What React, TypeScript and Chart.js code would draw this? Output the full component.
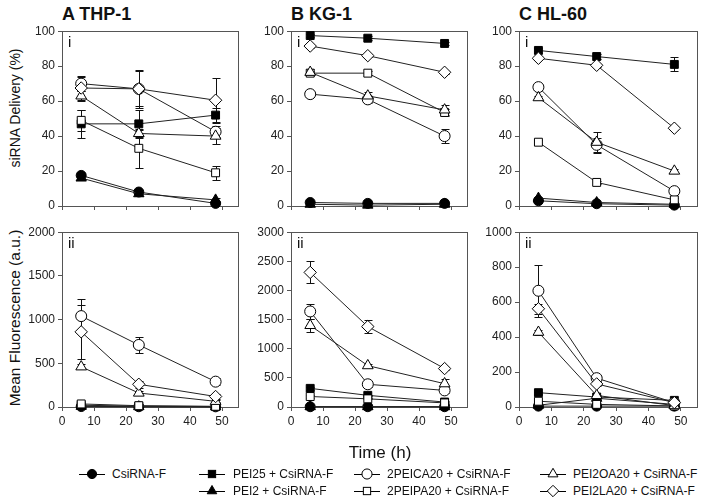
import React, { useEffect, useRef } from "react";
import { Chart, registerables } from "chart.js";

Chart.register(...registerables);

const FONT = "'Liberation Sans', Arial, Helvetica, sans-serif";

// ---------------- DATA ----------------
const hours = [6, 24, 48];
const xTickValues = [0, 10, 20, 30, 40, 50];

const seriesLabels = [
  "CsiRNA-F",
  "PEI25 + CsiRNA-F",
  "PEI2 + CsiRNA-F",
  "2PEICA20 + CsiRNA-F",
  "2PEIPA20 + CsiRNA-F",
  "PEI2OA20 + CsiRNA-F",
  "PEI2LA20 + CsiRNA-F",
];

// A THP-1, siRNA delivery (%)
const thp1Delivery = [
  [17.5, 8, 1.5],
  [47, 47, 52],
  [16, 7, 3.5],
  [70, 67, 42.5],
  [49, 33, 19],
  [63, 41.5, 40],
  [67.5, 67, 60.5],
];
const thp1DeliveryErr = [
  [1.5, 1, 0.5],
  [8, 8, 4],
  [1, 1, 1],
  [4, 11, 3],
  [6, 11, 4],
  [3, 2, 4.5],
  [7, 10, 13],
];

// B KG-1, siRNA delivery (%)
const kg1Delivery = [
  [2, 1.5, 1.5],
  [97.5, 96, 93],
  [1, 0.5, 1],
  [64, 61, 40],
  [76, 76, 53.5],
  [76.5, 63, 55],
  [91.5, 86, 76.5],
];
const kg1DeliveryErr = [
  [0.5, 0.5, 0.5],
  [1, 1, 1],
  [0.5, 0.5, 0.5],
  [1, 2, 4],
  [1, 1, 2],
  [2, 2, 3],
  [1, 1, 1],
];

// C HL-60, siRNA delivery (%)
const hl60Delivery = [
  [3, 1.3, 0.5],
  [89, 85.5, 81],
  [4.5, 2, 1],
  [68, 35, 8.5],
  [36.5, 13.5, 3.5],
  [62, 36.5, 20],
  [84.5, 80.5, 44.5],
];
const hl60DeliveryErr = [
  [0.5, 0.5, 0.5],
  [1.5, 1.5, 4],
  [0.5, 0.5, 0.5],
  [1, 4, 1],
  [1, 1, 1],
  [1, 6, 1],
  [1, 1, 1],
];

// A THP-1, mean fluorescence (a.u.)
const thp1Fluor = [
  [5, 3, 2],
  [20, 10, 5],
  [8, 4, 2],
  [1040, 710, 290],
  [35, 15, 8],
  [460, 160, 65],
  [860, 260, 120],
];
const thp1FluorErr = [
  [3, 2, 1],
  [5, 3, 2],
  [3, 2, 1],
  [190, 95, 40],
  [5, 5, 3],
  [30, 20, 10],
  [310, 40, 30],
];

// B KG-1, mean fluorescence (a.u.)
const kg1Fluor = [
  [5, 5, 5],
  [320, 200, 85],
  [5, 5, 5],
  [1640, 390, 285],
  [180, 140, 70],
  [1400, 710, 400],
  [2310, 1380, 660],
];
const kg1FluorErr = [
  [3, 3, 3],
  [20, 10, 10],
  [3, 3, 3],
  [130, 40, 50],
  [20, 10, 10],
  [110, 30, 80],
  [190, 115, 30],
];

// C HL-60, mean fluorescence (a.u.)
const hl60Fluor = [
  [5, 5, 5],
  [82, 57, 38],
  [10, 50, 15],
  [665, 165, 25],
  [33, 15, 6],
  [428, 66, 8],
  [562, 132, 25],
];
const hl60FluorErr = [
  [2, 2, 2],
  [5, 5, 5],
  [3, 5, 3],
  [148, 15, 5],
  [3, 2, 2],
  [15, 5, 2],
  [30, 10, 5],
];

// ---------------- STYLE ----------------
const markerStyles = [
  { shape: "circle", fill: "#000", r: 5 },
  { shape: "rect", fill: "#000", r: 5.6 },
  { shape: "triangle", fill: "#000", r: 6 },
  { shape: "circle", fill: "#fff", r: 5.5 },
  { shape: "rect", fill: "#fff", r: 5.6 },
  { shape: "triangle", fill: "#fff", r: 6.2 },
  { shape: "rectRot", fill: "#fff", r: 6.2 },
];

const PADL = 48;
const PADT = 8;
const PADR = 6;
const PADB = 22;

type PanelCfg = {
  roman: string;
  values: number[][];
  errs: number[][];
  yMax: number;
  yStep: number;
  left: number;
  right: number;
  top: number;
  bottom: number;
  showX: boolean;
};

const colLeft = [62, 291, 519];
const colRight = [238, 467, 697];

const panels: PanelCfg[] = [
  { roman: "i", values: thp1Delivery, errs: thp1DeliveryErr, yMax: 100, yStep: 20, left: colLeft[0], right: colRight[0], top: 29, bottom: 206, showX: false },
  { roman: "i", values: kg1Delivery, errs: kg1DeliveryErr, yMax: 100, yStep: 20, left: colLeft[1], right: colRight[1], top: 29, bottom: 206, showX: false },
  { roman: "i", values: hl60Delivery, errs: hl60DeliveryErr, yMax: 100, yStep: 20, left: colLeft[2], right: colRight[2], top: 29, bottom: 206, showX: false },
  { roman: "ii", values: thp1Fluor, errs: thp1FluorErr, yMax: 2000, yStep: 500, left: colLeft[0], right: colRight[0], top: 230, bottom: 407, showX: true },
  { roman: "ii", values: kg1Fluor, errs: kg1FluorErr, yMax: 3000, yStep: 500, left: colLeft[1], right: colRight[1], top: 230, bottom: 407, showX: true },
  { roman: "ii", values: hl60Fluor, errs: hl60FluorErr, yMax: 1000, yStep: 200, left: colLeft[2], right: colRight[2], top: 230, bottom: 407, showX: true },
];

function Panel({ cfg }: { cfg: PanelCfg }) {
  const ref = useRef<HTMLCanvasElement>(null);
  const w = cfg.right - cfg.left + PADL + PADR;
  const h = cfg.bottom - cfg.top + PADT + PADB;

  useEffect(() => {
    if (!ref.current) return;
    const framePlugin = {
      id: "frameAndErr",
      beforeDatasetsDraw(chart: any) {
        const { ctx, chartArea } = chart;
        const xs = chart.scales.x;
        const ys = chart.scales.y;
        ctx.save();
        ctx.strokeStyle = "#555";
        ctx.lineWidth = 1;
        ctx.strokeRect(
          Math.round(chartArea.left) + 0.5,
          Math.round(chartArea.top) + 0.5,
          Math.round(chartArea.right - chartArea.left),
          Math.round(chartArea.bottom - chartArea.top)
        );
        ctx.strokeStyle = "#111";
        ctx.lineWidth = 1;
        cfg.values.forEach((vals, i) => {
          vals.forEach((v, j) => {
            const e = cfg.errs[i][j];
            if (!e || e <= 0) return;
            const px = Math.round(xs.getPixelForValue(hours[j])) + 0.5;
            const yTop = Math.round(ys.getPixelForValue(v + e)) + 0.5;
            const yBot = Math.round(ys.getPixelForValue(Math.max(0, v - e))) + 0.5;
            ctx.beginPath();
            ctx.moveTo(px, yTop);
            ctx.lineTo(px, yBot);
            ctx.moveTo(px - 4, yTop);
            ctx.lineTo(px + 4, yTop);
            ctx.moveTo(px - 4, yBot);
            ctx.lineTo(px + 4, yBot);
            ctx.stroke();
          });
        });
        ctx.restore();
      },
      afterDraw(chart: any) {
        const { ctx, chartArea } = chart;
        ctx.save();
        ctx.fillStyle = "#111";
        ctx.font = `15px ${FONT}`;
        ctx.textBaseline = "top";
        ctx.textAlign = "left";
        ctx.fillText(cfg.roman, chartArea.left + 6, chartArea.top + 4);
        ctx.restore();
      },
    };

    const datasets = cfg.values.map((vals, i) => {
      const m = markerStyles[i];
      return {
        label: seriesLabels[i],
        data: hours.map((hh, j) => ({ x: hh, y: vals[j] })),
        borderColor: "#222",
        borderWidth: 1,
        backgroundColor: m.fill,
        pointStyle: m.shape,
        pointRadius: m.r,
        pointHoverRadius: m.r,
        pointBackgroundColor: m.fill,
        pointBorderColor: "#000",
        pointBorderWidth: 1,
        fill: false,
        tension: 0,
        order: 20 - i,
        clip: 8,
      };
    });

    const chart = new Chart(ref.current, {
      type: "line",
      data: { datasets } as any,
      options: {
        animation: false,
        responsive: false,
        devicePixelRatio: 1,
        events: [],
        layout: {
          autoPadding: false,
          padding: { left: 0, top: PADT, right: PADR, bottom: 0 },
        },
        plugins: {
          legend: { display: false },
          tooltip: { enabled: false },
          title: { display: false },
        },
        scales: {
          x: {
            type: "linear",
            min: 0,
            max: 55,
            afterBuildTicks: (s: any) => {
              s.ticks = xTickValues.map((v) => ({ value: v }));
            },
            afterFit: (s: any) => {
              s.height = PADB;
            },
            ticks: {
              display: cfg.showX,
              padding: 3,
              color: "#222",
              font: { family: FONT, size: 12 },
              maxRotation: 0,
              autoSkip: false,
              callback: (v: any) => String(v),
            },
            grid: {
              display: true,
              drawOnChartArea: false,
              drawTicks: true,
              tickLength: 4,
              color: "#555",
            },
            border: { display: false },
          },
          y: {
            type: "linear",
            min: 0,
            max: cfg.yMax,
            afterFit: (s: any) => {
              s.width = PADL;
            },
            ticks: {
              stepSize: cfg.yStep,
              padding: 3,
              color: "#222",
              font: { family: FONT, size: 12 },
              autoSkip: false,
              callback: (v: any) => String(v),
            },
            grid: {
              display: true,
              drawOnChartArea: false,
              drawTicks: true,
              tickLength: 4,
              color: "#555",
            },
            border: { display: false },
          },
        },
      } as any,
      plugins: [framePlugin],
    });
    return () => chart.destroy();
  }, [cfg]);

  return (
    <canvas
      ref={ref}
      width={w}
      height={h}
      style={{
        position: "absolute",
        left: cfg.left - PADL,
        top: cfg.top - PADT,
        width: w,
        height: h,
      }}
    />
  );
}

function LegendMarker({ idx }: { idx: number }) {
  const m = markerStyles[idx];
  const cx = 13;
  const cy = 7;
  let shape: React.ReactNode = null;
  const r = m.r * 0.92;
  const common = { fill: m.fill, stroke: "#000", strokeWidth: 1 };
  if (m.shape === "circle") {
    shape = <circle cx={cx} cy={cy} r={r} {...common} />;
  } else if (m.shape === "rect") {
    const s = r * Math.SQRT1_2;
    shape = <rect x={cx - s} y={cy - s} width={2 * s} height={2 * s} {...common} />;
  } else if (m.shape === "triangle") {
    const pts = [
      [cx, cy - r],
      [cx + r * Math.sin((2 * Math.PI) / 3), cy - r * Math.cos((2 * Math.PI) / 3)],
      [cx + r * Math.sin((4 * Math.PI) / 3), cy - r * Math.cos((4 * Math.PI) / 3)],
    ];
    shape = <polygon points={pts.map((p) => p.join(",")).join(" ")} {...common} />;
  } else {
    shape = (
      <polygon
        points={`${cx - r},${cy} ${cx},${cy - r} ${cx + r},${cy} ${cx},${cy + r}`}
        {...common}
      />
    );
  }
  return (
    <svg width={26} height={14} style={{ display: "block" }}>
      <line x1={0} y1={7.5} x2={26} y2={7.5} stroke="#000" strokeWidth={1} />
      {shape}
    </svg>
  );
}

const legendLayout = [
  { idx: 0, x: 79, tx: 112, y: 474 },
  { idx: 1, x: 199, tx: 233, y: 474 },
  { idx: 2, x: 199, tx: 233, y: 491 },
  { idx: 3, x: 354, tx: 387, y: 474 },
  { idx: 4, x: 354, tx: 387, y: 491 },
  { idx: 5, x: 540, tx: 573, y: 474 },
  { idx: 6, x: 540, tx: 573, y: 491 },
];

const titles = [
  { text: "A THP-1", x: colLeft[0] },
  { text: "B KG-1", x: colLeft[1] },
  { text: "C HL-60", x: colLeft[2] },
];

export default function App() {
  return (
    <div
      style={{
        position: "absolute",
        left: 0,
        top: 0,
        width: 706,
        height: 500,
        background: "#fff",
        fontFamily: FONT,
        color: "#111",
        overflow: "hidden",
      }}
    >
      {titles.map((t) => (
        <div
          key={t.text}
          style={{
            position: "absolute",
            left: t.x,
            top: 4,
            fontSize: 18,
            fontWeight: "bold",
            lineHeight: "20px",
            whiteSpace: "nowrap",
          }}
        >
          {t.text}
        </div>
      ))}

      <div
        style={{
          position: "absolute",
          left: 15 - 80,
          top: 108 - 9,
          width: 160,
          height: 18,
          lineHeight: "18px",
          fontSize: 14,
          textAlign: "center",
          transform: "rotate(-90deg)",
          whiteSpace: "nowrap",
        }}
      >
        siRNA Delivery (%)
      </div>
      <div
        style={{
          position: "absolute",
          left: 15 - 110,
          top: 318 - 9,
          width: 220,
          height: 18,
          lineHeight: "18px",
          fontSize: 15.5,
          textAlign: "center",
          transform: "rotate(-90deg)",
          whiteSpace: "nowrap",
        }}
      >
        Mean Fluorescence (a.u.)
      </div>

      {panels.map((p, i) => (
        <Panel key={i} cfg={p} />
      ))}

      <div
        style={{
          position: "absolute",
          left: 380 - 60,
          top: 453 - 11,
          width: 120,
          height: 22,
          lineHeight: "22px",
          fontSize: 17,
          textAlign: "center",
        }}
      >
        Time (h)
      </div>

      {legendLayout.map((l) => (
        <React.Fragment key={l.idx}>
          <div style={{ position: "absolute", left: l.x, top: l.y - 7 }}>
            <LegendMarker idx={l.idx} />
          </div>
          <div
            style={{
              position: "absolute",
              left: l.tx,
              top: l.y - 8,
              fontSize: 12,
              lineHeight: "16px",
              whiteSpace: "nowrap",
            }}
          >
            {seriesLabels[l.idx]}
          </div>
        </React.Fragment>
      ))}
    </div>
  );
}
